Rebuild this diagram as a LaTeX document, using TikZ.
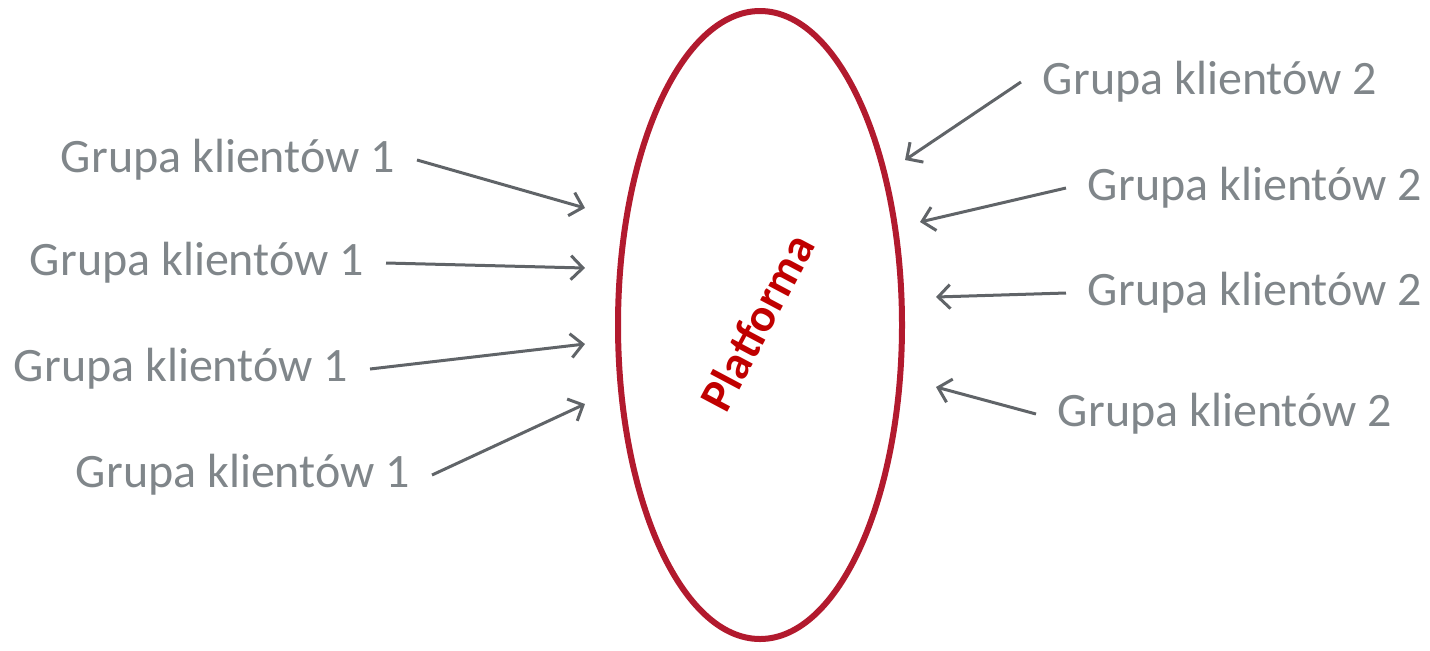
\documentclass[tikz,border=0pt]{standalone}
\usepackage{fontspec}
\setmainfont{Carlito}
\usetikzlibrary{shapes.geometric,arrows.meta}

\definecolor{platred}{RGB}{178,26,46}
\definecolor{labelred}{RGB}{192,0,0}
\definecolor{groupgray}{RGB}{128,134,138}
\definecolor{arrowgray}{RGB}{96,100,104}

\tikzset{
  group/.style={text=groupgray, font=\fontsize{24}{28}\selectfont, inner sep=0pt, outer sep=11pt},
  link/.style={arrowgray, line width=1.5pt, -{Straight Barb[length=6pt,width=12pt]}}
}

\begin{document}
\begin{tikzpicture}[x=0.5pt,y=-0.5pt]
\useasboundingbox (0,0) rectangle (1430,650);

% platform
\node[draw=platred, line width=3pt, ellipse, inner sep=0pt,
      minimum width=142pt, minimum height=314pt] (platform) at (760,325) {};
\node[rotate=62, text=labelred, font=\fontsize{23.5}{28}\selectfont\bfseries] (label) at (757,322) {Platforma};

% client group 1
\node[group] (g1a) at (228,160) {Grupa klientów 1};
\node[group] (g1b) at (197,263) {Grupa klientów 1};
\node[group] (g1c) at (181,369) {Grupa klientów 1};
\node[group] (g1d) at (243,475) {Grupa klientów 1};

% client group 2
\node[group] (g2a) at (1210,82) {Grupa klientów 2};
\node[group] (g2b) at (1255,188) {Grupa klientów 2};
\node[group] (g2c) at (1255,293) {Grupa klientów 2};
\node[group] (g2d) at (1225,414) {Grupa klientów 2};

% arrow tips
\coordinate (t1a) at (585,208);
\coordinate (t1b) at (585,268);
\coordinate (t1c) at (585,344);
\coordinate (t1d) at (585,404);
\coordinate (t2a) at (905,160);
\coordinate (t2b) at (920,222);
\coordinate (t2c) at (936,297);
\coordinate (t2d) at (936,387);

\draw[link] (g1a.east) -- (t1a);
\draw[link] (g1b.east) -- (t1b);
\draw[link] (g1c.east) -- (t1c);
\draw[link] (g1d.east) -- (t1d);
\draw[link] (g2a.west) -- (t2a);
\draw[link] (g2b.west) -- (t2b);
\draw[link] (g2c.west) -- (t2c);
\draw[link] (g2d.west) -- (t2d);
\end{tikzpicture}
\end{document}
